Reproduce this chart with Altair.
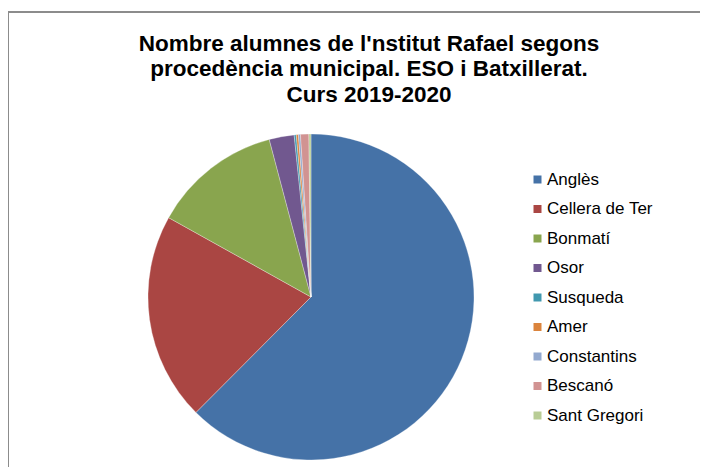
import altair as alt
import pandas as pd

municipis = ["Anglès", "Cellera de Ter", "Bonmatí", "Osor", "Susqueda",
             "Amer", "Constantins", "Bescanó", "Sant Gregori"]
alumnes = [303, 100, 62, 12, 1, 1, 1, 4, 1]
colors = ["#4572A7", "#AA4643", "#89A54E", "#71588F", "#4198AF",
          "#DB843D", "#93A9CF", "#D19392", "#B9CD96"]
title_lines = ["Nombre alumnes de l'nstitut Rafael segons",
               "procedència municipal. ESO i Batxillerat.",
               "Curs 2019-2020"]

df = pd.DataFrame({"municipi": municipis, "alumnes": alumnes,
                   "ordre": list(range(len(municipis)))})

frame = alt.Chart(alt.Data(values=[{"a": 1}])).mark_rect(
    fill=None, stroke="#8c8c8c", strokeWidth=2
).encode(x=alt.value(0), x2=alt.value(900), y=alt.value(4), y2=alt.value(900))

pie = alt.Chart(df).mark_arc(outerRadius=163, stroke="white", strokeWidth=0.3).encode(
    theta=alt.Theta("alumnes:Q", stack=True),
    order=alt.Order("ordre:Q", sort="ascending"),
    color=alt.Color(
        "municipi:N",
        scale=alt.Scale(domain=municipis, range=colors),
        sort=municipis,
        legend=alt.Legend(
            title=None, orient="none", legendX=521, legendY=163,
            symbolType="square", symbolSize=64, symbolStrokeWidth=0,
            labelFontSize=17, labelFont="Liberation Sans", labelColor="#000",
            rowPadding=11.5, labelOffset=1, padding=0,
        ),
    ),
    x=alt.value(303),
    y=alt.value(289),
)

chart = alt.layer(frame, pie).properties(
    width=692, height=459,
    autosize=alt.AutoSizeParams(type="none"),
    padding=0,
    title=alt.TitleParams(
        text=title_lines, anchor="middle", font="Liberation Sans",
        fontSize=22.5, fontWeight="bold", color="#000", lineHeight=25.5,
        offset=-98, dx=15, baseline="top",
    ),
).configure_view(stroke=None)

chart.save("out.html", embed_options={"renderer": "svg", "actions": False})
